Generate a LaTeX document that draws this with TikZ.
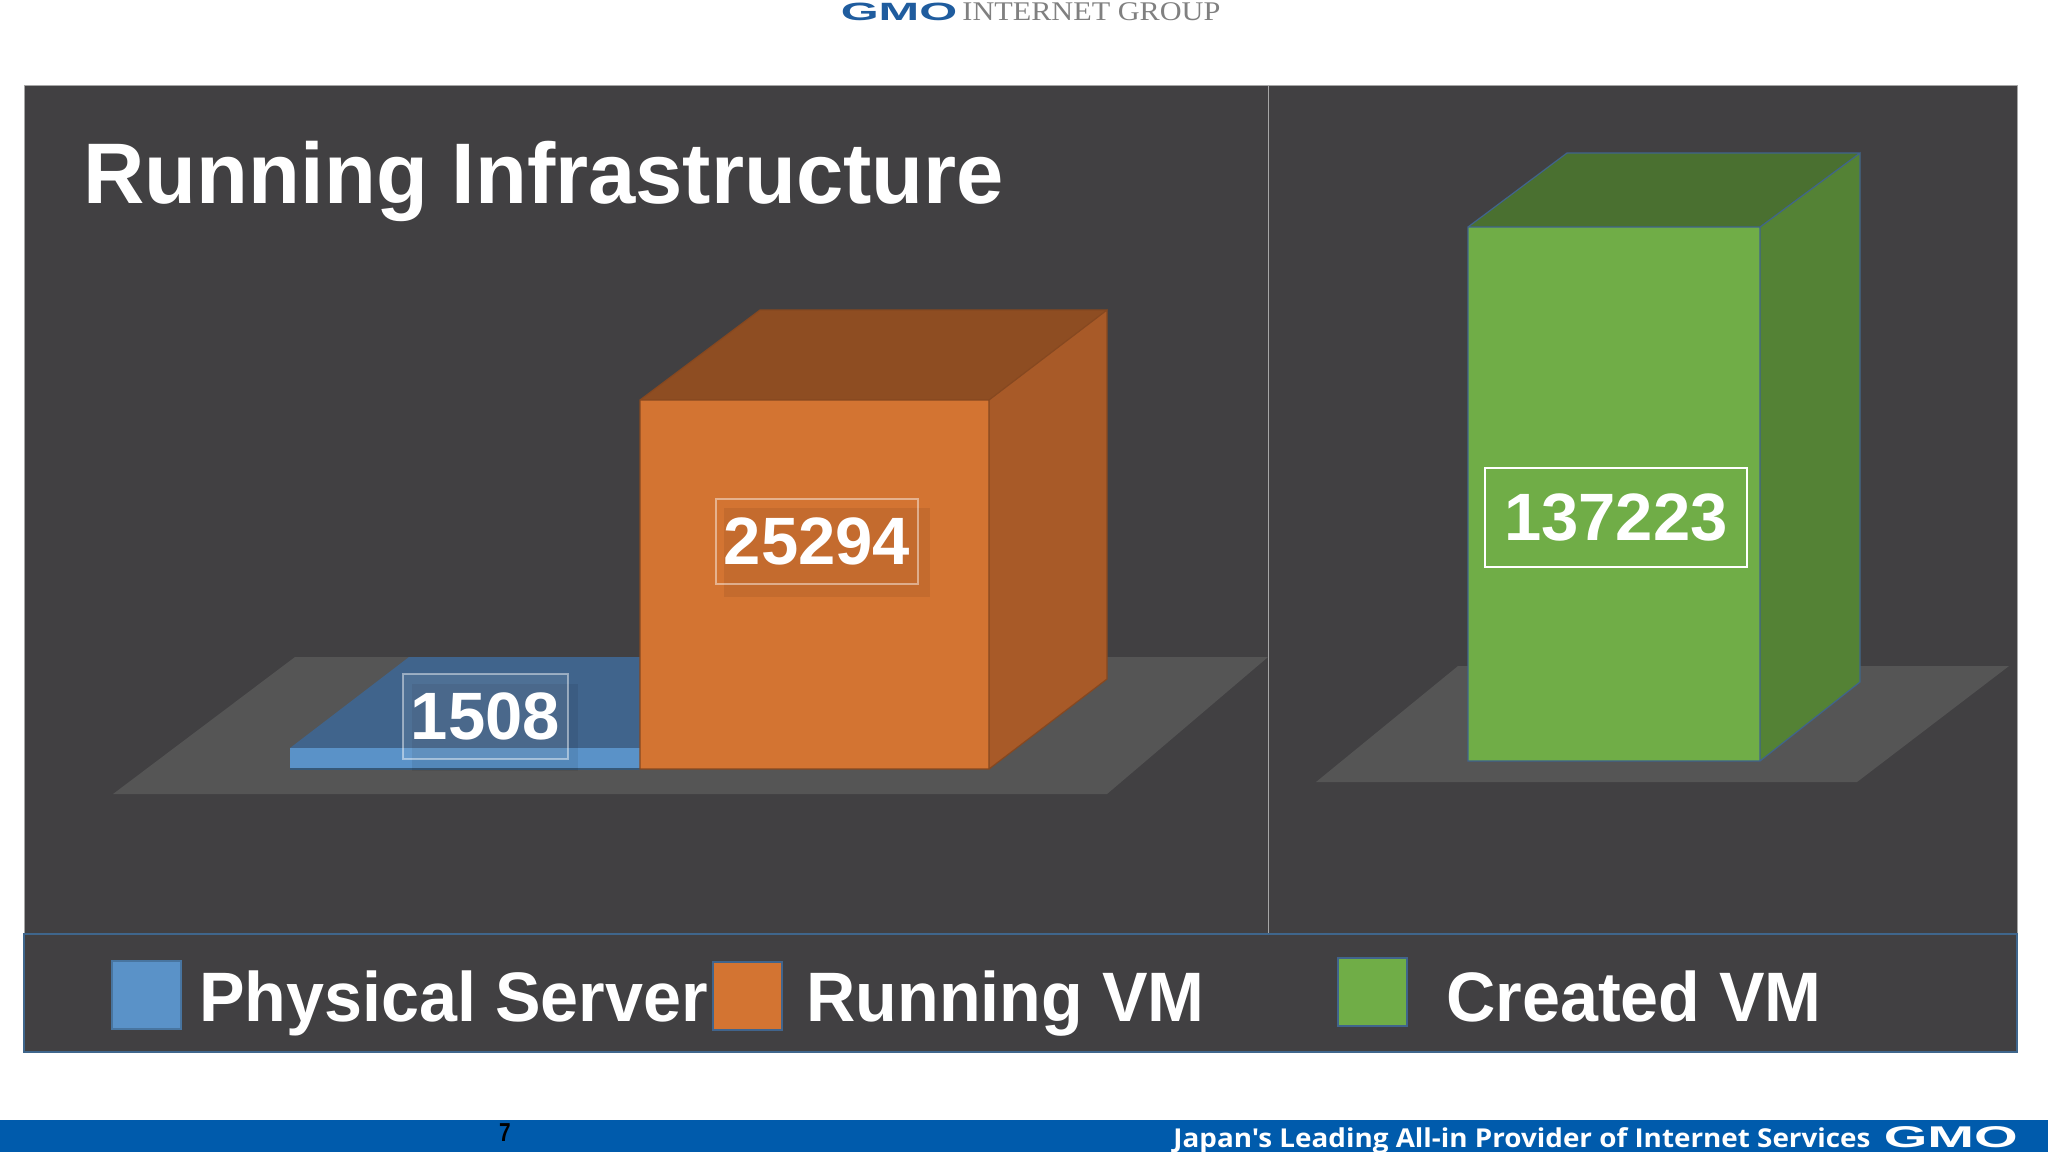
\documentclass[tikz,border=0pt]{standalone}
\usepackage{fontspec}
\setmainfont{Liberation Sans}
\newfontfamily\logofont{Liberation Serif}
\newfontfamily\sloganfont{Open Sans}
\usepackage{tikz}
\usetikzlibrary{positioning}
\definecolor{panelgray}{HTML}{414042}
\definecolor{floorgray}{HTML}{555555}
\definecolor{blueface}{HTML}{5A92C8}
\definecolor{bluetop}{HTML}{40648C}
\definecolor{orangeface}{HTML}{D37432}
\definecolor{orangetop}{HTML}{8E4D22}
\definecolor{orangeside}{HTML}{A85A28}
\definecolor{greenface}{HTML}{70AD47}
\definecolor{greentop}{HTML}{4A7030}
\definecolor{greenside}{HTML}{548235}
\definecolor{footerblue}{HTML}{005BAC}
\definecolor{logoblue}{HTML}{1F5C9E}
\tikzstyle{every node}+=[inner sep=0pt]
\tikzstyle{panel} = [fill=panelgray, draw=gray!70, line width=0.5pt]
\tikzstyle{legendbar} = [fill=panelgray, draw=blueface!70!black, line width=1pt]
\tikzstyle{floor} = [fill=floorgray]
\tikzstyle{labelshadow} = [fill=black, opacity=0.07]
\tikzstyle{value} = [draw=white, text=white, font=\fontsize{33.5}{33.5}\selectfont\bfseries, align=center, anchor=center]
\tikzstyle{swatch} = [rectangle, line width=1.2pt, minimum width=34.5pt, minimum height=34pt, anchor=north west]
\tikzstyle{legendtext} = [anchor=base west, text=white, xscale=0.975, font=\fontsize{35}{35}\selectfont\bfseries]

\begin{document}
\begin{tikzpicture}[x=0.5pt, y=-0.5pt]
  \useasboundingbox (0,0) rectangle (2048,1152);
  % Panels
  \draw [panel] (24,85) rectangle (1268,934);
  \draw [panel] (1268,85) rectangle (2017,934);
  \draw [legendbar] (24,934) rectangle (2017,1052);
  \fill [footerblue] (0,1120) rectangle (2048,1152);
  % Floors
  \fill [floor] (113,794) -- (1107,794) -- (1268,657) -- (295,657) -- cycle;
  \fill [floor] (1316,782) -- (1857,782) -- (2009,666) -- (1458,666) -- cycle;
  % Blue box
  \fill [bluetop] (290,748) -- (640,748) -- (640,657) -- (409,657) -- cycle;
  \fill [blueface] (290,748) rectangle (640,769);
  \draw [blueface!60!black, line width=0.6pt] (290,769) -- (640,769);
  % Orange box
  \fill [orangetop] (640,400) -- (989,400) -- (1107,310) -- (760,310) -- cycle;
  \fill [orangeside] (989,400) -- (1107,310) -- (1107,679) -- (989,769) -- cycle;
  \fill [orangeface] (640,400) rectangle (989,769);
  \draw [orangeside!80!black, line width=0.6pt] (640,769) -- (640,400) -- (989,400) -- (1107,310) -- (1107,679) -- (989,769) -- cycle (989,400) -- (989,769) (640,400) -- (760,310) -- (1107,310);
  % Green box
  \fill [greentop] (1468,227) -- (1760,227) -- (1860,153) -- (1567,153) -- cycle;
  \fill [greenside] (1760,227) -- (1860,153) -- (1860,682) -- (1760,761) -- cycle;
  \fill [greenface] (1468,227) rectangle (1760,761);
  \draw [bluetop, line width=0.6pt] (1468,761) -- (1468,227) -- (1760,227) -- (1860,153) -- (1860,682) -- (1760,761) -- cycle (1760,227) -- (1760,761) (1468,227) -- (1567,153) -- (1860,153);
  % Label shadows
  \fill [labelshadow] (412,684) rectangle (578,771);
  \fill [labelshadow] (724,508) rectangle (930,597);
  % Place nodes
  \node [anchor=base west, text=white, xscale=0.988, font=\fontsize{43}{43}\selectfont\bfseries] (title) at (83,203) {Running Infrastructure};
  \node [value, draw opacity=0.45, line width=0.6pt, minimum width=82.5pt, minimum height=42.5pt, fill=white, fill opacity=0.08, text opacity=1] (physicalvalue) at (485.5,716.5) {1508};
  \node [value, draw opacity=0.45, line width=0.6pt, minimum width=101pt, minimum height=42.5pt] (runningvalue) at (817,541.5) {25294};
  \node [value, minimum width=131pt, minimum height=49.5pt, line width=1pt] (createdvalue) at (1616,517.5) {137223};
  \node [swatch, fill=blueface, draw=blueface!80!black] (physicalswatch) at (111,960) {};
  \node [legendtext] (physicaltext) at (199,1021) {Physical Server};
  \node [swatch, fill=orangeface, draw=bluetop] (runningswatch) at (712,961) {};
  \node [legendtext] (runningtext) at (806,1021) {Running VM};
  \node [swatch, fill=greenface, draw=bluetop] (createdswatch) at (1337,957) {};
  \node [legendtext] (createdtext) at (1446,1021) {Created VM};
  % Header and footer
  \node [anchor=base west, text=logoblue, font=\fontsize{12.5}{12.5}\selectfont\bfseries, xscale=1.95] (toplogo) at (840,20) {GMO};
  \node [anchor=base west, text=gray, xscale=1.12, font=\fontsize{13.5}{13.5}\selectfont\logofont] (topgroup) at (962,20) {INTERNET GROUP};
  \node [text=black, font=\fontsize{13}{13}\selectfont\bfseries, xscale=0.8] (pagenum) at (505,1133) {7};
  \node [anchor=base west, text=white, font=\fontsize{13}{13}\selectfont\sloganfont\bfseries, xscale=1.07] (slogan) at (1173,1147) {Japan's Leading All-in Provider of Internet Services};
  \node [anchor=base west, text=white, font=\fontsize{15}{15}\selectfont\bfseries, xscale=1.87] (footlogo) at (1883,1147) {GMO};
\end{tikzpicture}
\end{document}
